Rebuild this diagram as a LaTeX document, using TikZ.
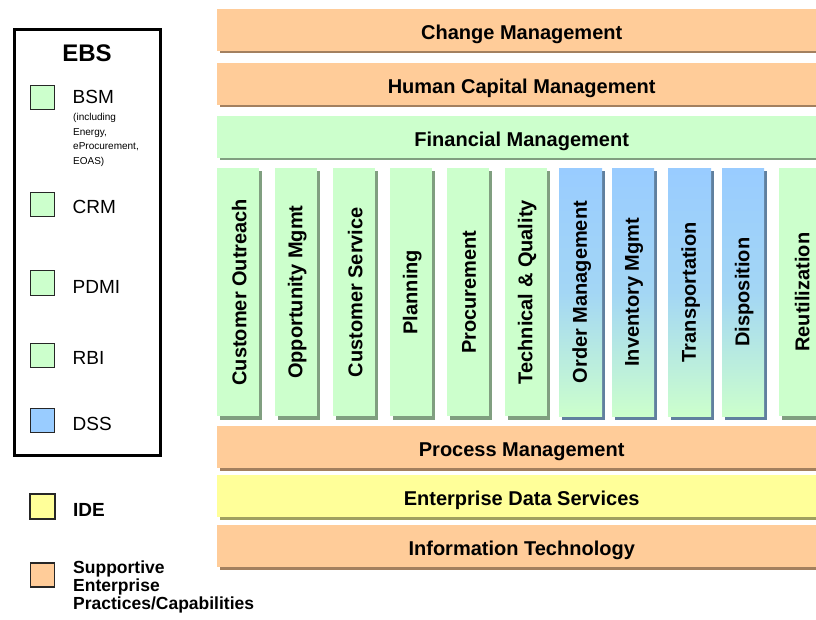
\documentclass[tikz,border=0pt]{standalone}
\usepackage{fontspec}
\setmainfont{Liberation Sans}
\definecolor{orangeF}{HTML}{FFCC99}
\definecolor{orangeS}{HTML}{A3805F}
\definecolor{greenF}{HTML}{CCFFCC}
\definecolor{greenS}{HTML}{809F80}
\definecolor{yellowF}{HTML}{FFFF99}
\definecolor{yellowS}{HTML}{A0A060}
\definecolor{blueF}{HTML}{99CCFF}
\definecolor{blueS}{HTML}{60809F}
\tikzset{
  layerbox/.style={anchor=north west, inner sep=0pt, minimum width=609pt, minimum height=42pt,
    text height=18pt, text depth=0pt, font=\fontsize{20}{24}\selectfont\bfseries},
  colbox/.style={anchor=north west, inner sep=0pt, minimum width=42pt, minimum height=248pt},
  collabel/.style={rotate=90, inner sep=0pt, font=\fontsize{20}{24}\selectfont\bfseries},
  legsq/.style={draw=black!85, line width=1pt, minimum size=24pt, inner sep=0pt},
  leglabel/.style={anchor=base west, inner sep=0pt, font=\fontsize{19}{22}\selectfont},
  smalllabel/.style={anchor=base west, inner sep=0pt, font=\fontsize{10}{12}\selectfont},
  suplabel/.style={anchor=base west, inner sep=0pt, font=\fontsize{17.5}{18}\selectfont\bfseries},
}
% name, top y, fill, shadow, text
\newcommand\layerbar[5]{%
  \fill[#4] (219.5,{#2+2.5}) rectangle (830,{#2+44.5});
  \node[layerbox, fill=#3] (#1) at (217,#2) {#5};
}
% name, left x, width, text
\newcommand\greencol[4]{%
  \fill[greenS] ({#2+3},171) rectangle ({#2+#3+3},419.5);
  \node[colbox, fill=greenF, minimum width=#3] (#1) at (#2,168) {};
  \node[collabel] (#1-t) at ([xshift=1pt]#1.center) {#4};
}
\newcommand\bluecol[4]{%
  \fill[blueS] ({#2+3},171) rectangle ({#2+#3+3},419.5);
  \node[colbox, top color=blueF, bottom color=greenF, middle color=blueF!80!greenF, minimum width=#3] (#1) at (#2,168) {};
  \node[collabel] (#1-t) at ([xshift=1pt]#1.center) {#4};
}
\begin{document}
\begin{tikzpicture}[x=1pt,y=-1pt]
\useasboundingbox (0,0) rectangle (816,620);
\clip (0,0) rectangle (816,620);
\fill[white] (0,0) rectangle (816,620);

% horizontal layers
\layerbar{chg}{9}{orangeF}{orangeS}{Change Management}
\layerbar{hcm}{63}{orangeF}{orangeS}{Human Capital Management}
\layerbar{fin}{116}{greenF}{greenS}{Financial Management}
\layerbar{pm}{426}{orangeF}{orangeS}{Process Management}
\layerbar{eds}{475}{yellowF}{yellowS}{Enterprise Data Services}
\layerbar{itl}{525}{orangeF}{orangeS}{Information Technology}

% vertical columns
\greencol{c1}{217}{42}{Customer Outreach}
\greencol{c2}{275}{42}{Opportunity Mgmt}
\greencol{c3}{333}{42}{Customer Service}
\greencol{c4}{390}{42}{Planning}
\greencol{c5}{447}{42}{Procurement}
\greencol{c6}{505}{42}{Technical \& Quality}
\bluecol{c7}{559}{43}{Order Management}
\bluecol{c8}{612}{42}{Inventory Mgmt}
\bluecol{c9}{668}{43}{Transportation}
\bluecol{c10}{722}{42}{Disposition}
\greencol{c11}{779}{44}{Reutilization}

% legend box
\node[draw=black, line width=3pt, minimum width=146pt, minimum height=425.5pt, inner sep=0pt] (ebsbox) at (87.5,242.25) {};
\node[anchor=base, inner sep=0pt, font=\fontsize{24}{28}\selectfont\bfseries] (ebs) at (87,62) {EBS};

\node[legsq, fill=greenF] (sqbsm) at (42.5,97.5) {};
\node[leglabel] (lbsm) at (72.5,103.5) {BSM};
\node[smalllabel] (s1) at (73,121) {(including};
\node[smalllabel] (s2) at (73,135.5) {Energy,};
\node[smalllabel] (s3) at (73,150) {eProcurement,};
\node[smalllabel] (s4) at (73,164.5) {EOAS)};

\node[legsq, fill=greenF] (sqcrm) at (42.5,205) {};
\node[leglabel] (lcrm) at (72.5,214) {CRM};
\node[legsq, fill=greenF] (sqpdmi) at (42.5,283) {};
\node[leglabel] (lpdmi) at (72.5,293) {PDMI};
\node[legsq, fill=greenF] (sqrbi) at (42.5,355.5) {};
\node[leglabel] (lrbi) at (72.5,364) {RBI};
\node[legsq, fill=blueF] (sqdss) at (42.5,420.5) {};
\node[leglabel] (ldss) at (72.5,430) {DSS};

% bottom legend
\node[legsq, line width=1.6pt, fill=yellowF, minimum size=25pt] (sqide) at (42.5,506.5) {};
\node[leglabel, font=\fontsize{19}{22}\selectfont\bfseries] (lide) at (73,516.5) {IDE};
\node[legsq, line width=1.6pt, fill=orangeF, minimum size=24pt] (sqsup) at (42.5,575) {};
\node[suplabel] (sup1) at (73,573) {Supportive};
\node[suplabel] (sup2) at (73,591) {Enterprise};
\node[suplabel] (sup3) at (73,609) {Practices/Capabilities};
\end{tikzpicture}
\end{document}
